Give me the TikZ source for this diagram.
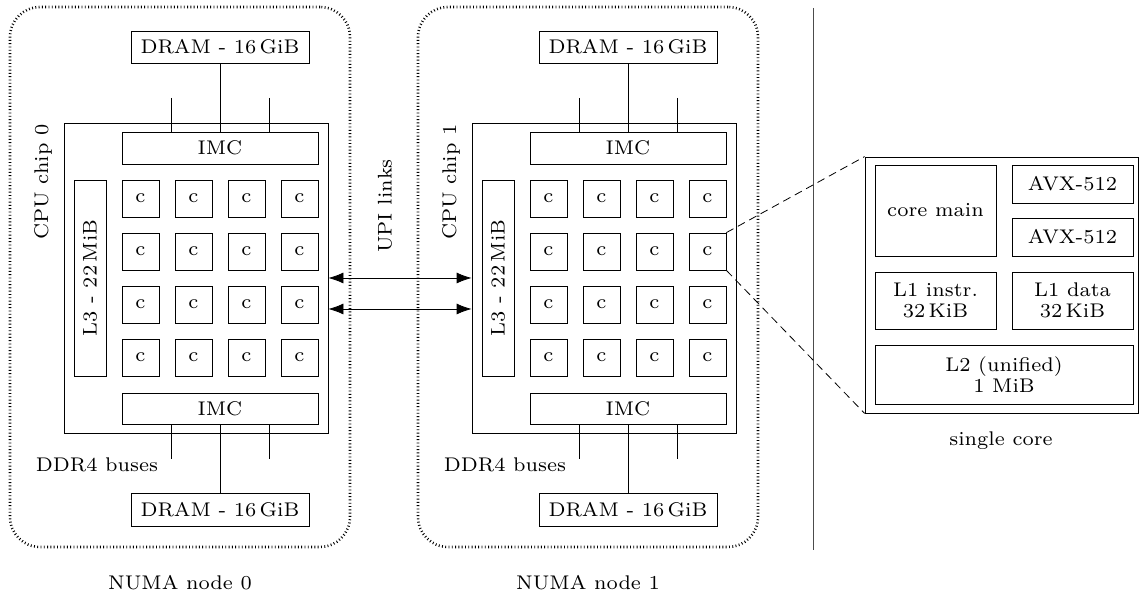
\documentclass[tikz,border=0pt]{standalone}
\usepackage{fontspec}
\setmainfont{lmroman7-regular.otf}
\usetikzlibrary{arrows.meta}
\newcommand{\lbl}{\fontsize{9.9}{10.7}\selectfont}
\tikzset{
  box/.style={draw, line width=0.4pt, inner sep=0pt, font=\lbl, align=center},
  numa/.style={draw, rounded corners=15pt, line width=1.3pt, dash pattern=on 0.45pt off 1.2pt, inner sep=0pt},
  txt/.style={font=\lbl, inner sep=0pt},
  wire/.style={line width=0.4pt},
  zoomline/.style={line width=0.4pt, dash pattern=on 4pt off 2.5pt},
  upi/.style={line width=0.4pt, {Latex[length=7.5pt,width=5.5pt]}-{Latex[length=7.5pt,width=5.5pt]}}
}
\begin{document}
\begin{tikzpicture}[x=0.5pt, y=-0.5pt]
\useasboundingbox (0,0) rectangle (1145,597);

\foreach \n in {0,1} {
  \begin{scope}[xshift=\n*204pt]
    % NUMA domain outline and caption
    \node[numa, minimum width=170pt, minimum height=270pt] (numa\n) at (180,277) {};
    \node[txt] (numalbl\n) at (180,583) {NUMA node \n};
    % memory banks
    \node[box, minimum width=89pt, minimum height=16pt] (dramt\n) at (220,47) {DRAM - 16\,GiB};
    \node[box, minimum width=89pt, minimum height=16.5pt] (dramb\n) at (220,509.5) {DRAM - 16\,GiB};
    % CPU package
    \node[box, minimum width=132pt, minimum height=155pt] (chip\n) at (196,278) {};
    \node[txt, rotate=90] (chiplbl\n) at (43,182) {CPU chip \n};
    \node[box, minimum width=98pt, minimum height=16pt] (imct\n) at (220,148) {IMC};
    \node[box, minimum width=98pt, minimum height=15.5pt] (imcb\n) at (220,408.5) {IMC};
    \node[box, rotate=90, minimum width=98pt, minimum height=16pt] (ltri\n) at (90,278) {L3 - 22\,MiB};
    % 4x4 cores
    \foreach \i in {0,...,3} {
      \foreach \j in {0,...,3} {
        \node[box, minimum width=18.5pt, minimum height=18.5pt] (core\n-\i-\j) at (140.5+53*\i,198.5+53*\j) {c};
      }
    }
    % DDR4 buses
    \coordinate (bustl\n) at (171,98);
    \coordinate (bustr\n) at (269,98);
    \coordinate (busbl\n) at (171,459);
    \coordinate (busbr\n) at (269,459);
    \draw[wire] (dramt\n) -- (imct\n);
    \draw[wire] (bustl\n) -- (imct\n.north -| bustl\n);
    \draw[wire] (bustr\n) -- (imct\n.north -| bustr\n);
    \draw[wire] (imcb\n) -- (dramb\n);
    \draw[wire] (imcb\n.south -| busbl\n) -- (busbl\n);
    \draw[wire] (imcb\n.south -| busbr\n) -- (busbr\n);
    \node[txt] (ddrlbl\n) at (97,465) {DDR4 buses};
  \end{scope}
}

% UPI links between the two packages
\coordinate (upia) at (0,278);
\coordinate (upib) at (0,309);
\draw[upi] (chip0.east |- upia) -- (chip1.west |- upia);
\draw[upi] (chip0.east |- upib) -- (chip1.west |- upib);
\node[txt, rotate=90] (upilbl) at (385,206) {UPI links};

% separator
\coordinate (septop) at (813,8);
\coordinate (sepbot) at (813,550);
\draw[wire, black!70] (septop) -- (sepbot);

% single core detail
\node[box, minimum width=136.5pt, minimum height=128pt] (single) at (1001.5,285) {};
\node[box, minimum width=60.5pt, minimum height=45.5pt] (coremain) at (935.5,210.5) {core main};
\node[box, minimum width=60.5pt, minimum height=19pt] (avxa) at (1072.5,184) {AVX-512};
\node[box, minimum width=60.5pt, minimum height=19pt] (avxb) at (1072.5,237) {AVX-512};
\node[box, minimum width=60.5pt, minimum height=28.5pt] (lonei) at (935.5,300.5) {L1 instr.\\32\,KiB};
\node[box, minimum width=60.5pt, minimum height=28.5pt] (loned) at (1072.5,300.5) {L1 data\\32\,KiB};
\node[box, minimum width=129pt, minimum height=29.5pt] (ltwo) at (1004,374.5) {L2 (unified)\\1 MiB};
\node[txt] (singlelbl) at (1001,441) {single core};

\draw[zoomline] (core1-3-1.north east) -- (single.north west);
\draw[zoomline] (core1-3-1.south east) -- (single.south west);
\end{tikzpicture}
\end{document}
